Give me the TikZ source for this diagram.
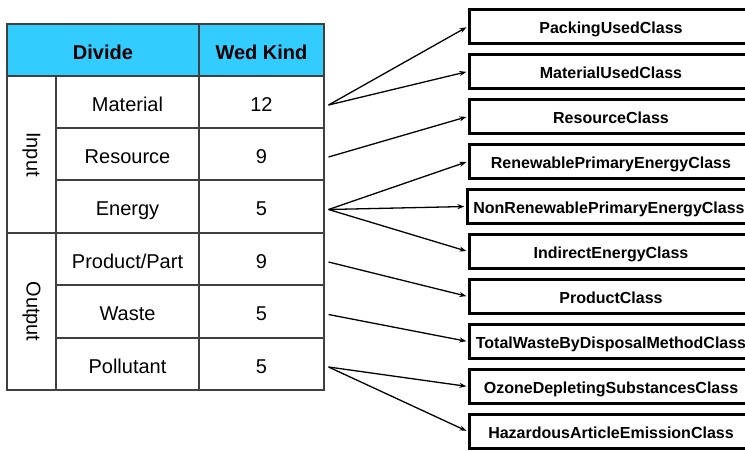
\documentclass[tikz,border=0pt]{standalone}
\usepackage{fontspec}
\setmainfont{Liberation Sans}
\usetikzlibrary{arrows.meta}
\definecolor{headcyan}{HTML}{33CCFF}
\definecolor{gridgray}{HTML}{404040}
\begin{document}
\begin{tikzpicture}[x=1pt,y=-1pt,
  cell/.style={draw=gridgray, line width=1.1pt, rectangle, inner sep=0pt,
    minimum height=52pt, text height=18pt, text depth=0pt,
    font=\fontsize{20}{24}\selectfont},
  namecell/.style={cell, minimum width=143pt},
  kindcell/.style={cell, minimum width=125pt},
  groupcell/.style={cell, minimum width=49pt, minimum height=157pt, text height=, text depth=},
  headcell/.style={cell, fill=headcyan, font=\fontsize{20}{24}\selectfont\bfseries},
  classbox/.style={draw=black, line width=3.3pt, rectangle, inner sep=0pt,
    minimum width=283pt, minimum height=34pt, text height=14.5pt, text depth=0pt,
    font=\fontsize{16}{19}\selectfont\bfseries},
  link/.style={-{Stealth[length=7pt,width=5pt]}, line width=1.3pt, shorten >=1.5pt}
]
\clip (0,0) rectangle (745,451);
\fill[white] (0,0) rectangle (745,451);

% header row
\node[headcell, minimum width=192pt] (hdiv) at (103,50) {Divide};
\node[headcell, minimum width=125pt] (hkind) at (261.5,50) {Wed Kind};

% group columns
\node[groupcell] (gin) at (31.5,154.5) {\rotatebox{-90}{Input}};
\node[groupcell] (gout) at (31.5,311.5) {\rotatebox{-90}{Output}};

% item rows
\node[namecell] (nmat) at (127.5,102) {Material};
\node[kindcell] (kmat) at (261.5,102) {12};
\node[namecell] (nres) at (127.5,154) {Resource};
\node[kindcell] (kres) at (261.5,154) {9};
\node[namecell] (nene) at (127.5,206.5) {Energy};
\node[kindcell] (kene) at (261.5,206.5) {5};
\node[namecell] (npro) at (127.5,259) {Product/Part};
\node[kindcell] (kpro) at (261.5,259) {9};
\node[namecell] (nwas) at (127.5,311.5) {Waste};
\node[kindcell] (kwas) at (261.5,311.5) {5};
\node[namecell] (npol) at (127.5,364) {Pollutant};
\node[kindcell] (kpol) at (261.5,364) {5};

% class boxes
\node[classbox] (c1) at (611,26.5) {PackingUsedClass};
\node[classbox] (c2) at (611,71.5) {MaterialUsedClass};
\node[classbox] (c3) at (611,116.5) {ResourceClass};
\node[classbox] (c4) at (611,161.5) {RenewablePrimaryEnergyClass};
\node[classbox] (c5) at (609,206.5) {NonRenewablePrimaryEnergyClass};
\node[classbox] (c6) at (611,251.5) {IndirectEnergyClass};
\node[classbox] (c7) at (611,296.5) {ProductClass};
\node[classbox] (c8) at (611,341.5) {TotalWasteByDisposalMethodClass};
\node[classbox] (c9) at (611,386.5) {OzoneDepletingSubstancesClass};
\node[classbox] (c10) at (611,431.5) {HazardousArticleEmissionClass};

% connectors
\coordinate (smat) at ([xshift=4pt,yshift=-3pt]kmat.east);
\coordinate (sres) at ([xshift=4pt,yshift=-3pt]kres.east);
\coordinate (sene) at ([xshift=4pt,yshift=-3pt]kene.east);
\coordinate (spro) at ([xshift=4pt,yshift=-3pt]kpro.east);
\coordinate (swas) at ([xshift=4pt,yshift=-3pt]kwas.east);
\coordinate (spol) at ([xshift=4pt,yshift=-3pt]kpol.east);
\draw[link] (smat) -- (c1.west);
\draw[link] (smat) -- (c2.west);
\draw[link] (sres) -- (c3.west);
\draw[link] (sene) -- (c4.west);
\draw[link] (sene) -- (c5.west);
\draw[link] (sene) -- (c6.west);
\draw[link] (spro) -- (c7.west);
\draw[link] (swas) -- (c8.west);
\draw[link] (spol) -- (c9.west);
\draw[link] (spol) -- (c10.west);
\end{tikzpicture}
\end{document}
